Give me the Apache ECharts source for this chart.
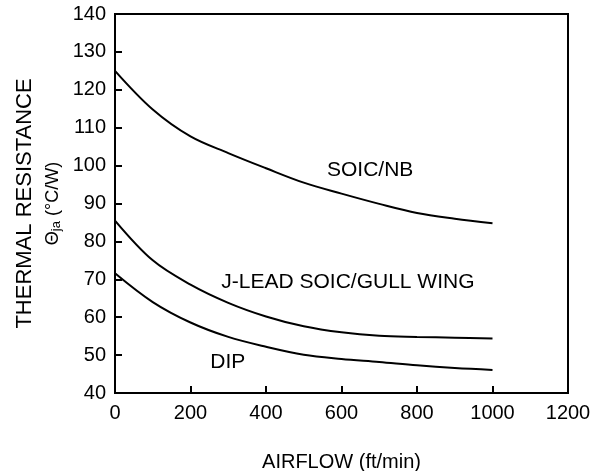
<!DOCTYPE html>
<html><head><meta charset="utf-8">
<script src="https://cdn.jsdelivr.net/npm/echarts@6/dist/echarts.min.js"></script>
<style>html,body{margin:0;padding:0;background:#fff}#c{width:592px;height:471px}</style>
</head><body><div id="c"></div>
<script>
const airflow = [0, 100, 200, 300, 400, 500, 600, 700, 800, 900, 1000];
const soicNB = [125, 114.8, 107.7, 103.3, 99.3, 95.5, 92.6, 89.9, 87.5, 86, 84.8];
const jLead = [85.5, 75, 68.6, 63.8, 60.2, 57.6, 56, 55.1, 54.8, 54.6, 54.4];
const dip = [71.6, 64, 58.6, 54.8, 52.2, 50.1, 49, 48.2, 47.3, 46.6, 46.1];
const curveLabels = [
  {name: 'SOIC/NB', x: 676, y: 98.8},
  {name: 'J-LEAD SOIC/GULL WING', x: 617, y: 69.3},
  {name: 'DIP', x: 299, y: 48.2}
];
const yTicks = {min: 40, max: 140, interval: 10};
const xTicks = {min: 0, max: 1200, interval: 200};

const font = 'Liberation Sans, Arial, sans-serif';
function pairs(ys){ return airflow.map((x,i)=>[x, ys[i]]); }
function lineSeries(name, ys, lab){
  return {
    type: 'line', name, data: pairs(ys), smooth: 0.35, showSymbol: false,
    lineStyle: {color: '#000', width: 2}, silent: true,
    markPoint: {
      symbol: 'circle', symbolSize: 0, silent: true,
      data: [{coord: [lab.x, lab.y], label: {show: true, formatter: lab.name, color: '#000', fontFamily: font, fontSize: 21, position: 'inside'}}]
    }
  };
}
const chart = echarts.init(document.getElementById('c'));
chart.setOption({
  animation: false,
  grid: {left: 115, right: 24, top: 14, bottom: 78, outerBoundsMode: 'none', containLabel: false, show: true, borderColor: '#000', borderWidth: 2, backgroundColor: 'transparent'},
  xAxis: {
    type: 'value', min: xTicks.min, max: xTicks.max, interval: xTicks.interval,
    name: 'AIRFLOW (ft/min)', nameLocation: 'middle', nameGap: 59, nameMoveOverlap: false,
    nameTextStyle: {color: '#000', fontFamily: font, fontSize: 20},
    axisLine: {show: true, lineStyle: {color: '#000', width: 2}},
    axisTick: {show: true, inside: true, length: 7, lineStyle: {color: '#000', width: 2}},
    axisLabel: {color: '#000', fontFamily: font, fontSize: 20, margin: 10, formatter: v => String(v)},
    splitLine: {show: false}
  },
  yAxis: {
    type: 'value', min: yTicks.min, max: yTicks.max, interval: yTicks.interval,
    name: 'THERMAL RESISTANCE\n{t|Θ}{s|ja}{t| (°C/W)}', nameLocation: 'middle', nameGap: 47, nameRotate: 90, nameMoveOverlap: false,
    nameTextStyle: {color: '#000', fontFamily: font, fontSize: 22, lineHeight: 29,
      rich: {t: {fontSize: 18, fontFamily: font, color: '#000'}, s: {fontSize: 13, fontFamily: font, color: '#000', padding: [6,0,0,0]}}},
    axisLine: {show: true, lineStyle: {color: '#000', width: 2}},
    axisTick: {show: true, inside: true, length: 7, lineStyle: {color: '#000', width: 2}},
    axisLabel: {color: '#000', fontFamily: font, fontSize: 20, margin: 9, formatter: v => String(v)},
    splitLine: {show: false}
  },
  series: [
    lineSeries('SOIC/NB', soicNB, curveLabels[0]),
    lineSeries('J-LEAD SOIC/GULL WING', jLead, curveLabels[1]),
    lineSeries('DIP', dip, curveLabels[2])
  ]
});
</script></body></html>
